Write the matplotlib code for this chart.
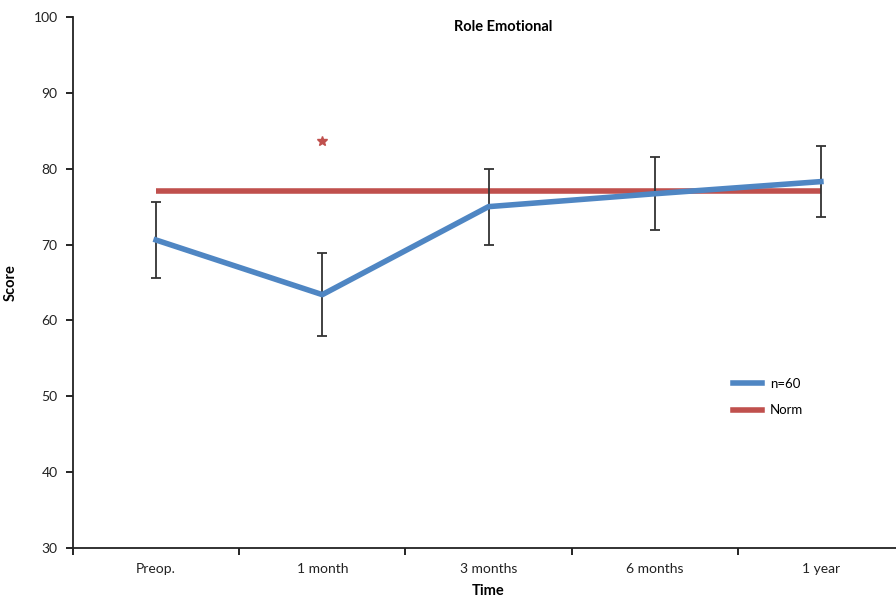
import matplotlib
matplotlib.use("Agg")
import matplotlib.pyplot as plt
import numpy as np
from matplotlib.lines import Line2D

categories = ["Preop.", "1 month", "3 months", "6 months", "1 year"]
n60_mean = [70.6, 63.4, 75.0, 76.7, 78.3]
n60_err = [5.0, 5.5, 5.0, 4.8, 4.7]
norm_values = [77.0, 77.0, 77.0, 77.0, 77.0]
star_category = 1
star_value = 83.6

plt.rcParams['font.family'] = ['Lato', 'DejaVu Sans']

fig = plt.figure(figsize=(8.96, 5.97), dpi=100)
ax = fig.add_axes([73/896, 1-548/597, (904-73)/896, (548-17)/597])

x = np.arange(len(categories))
blue = "#4f86c3"
red = "#c0504d"

ax.plot(x, norm_values, color=red, lw=4, solid_capstyle='butt', label="Norm", zorder=2)
ax.errorbar(x, n60_mean, yerr=n60_err, color=blue, lw=4, ecolor="#333333",
            elinewidth=1.3, capsize=3.5, capthick=1.3, label="n=60", zorder=3)
ax.plot([x[star_category]], [star_value], marker='*', color=red, markersize=7, ls='none')

ax.set_xlim(-0.5, 4.5)
ax.set_ylim(30, 100)
ax.set_yticks(np.arange(30, 101, 10))
ax.set_xticks(x)
ax.set_xticklabels(categories, fontsize=10, color="#222222")
ax.set_xticks(np.arange(-0.5, 4.6, 1), minor=True)
ax.tick_params(axis='x', which='major', length=0, pad=11)
ax.tick_params(axis='x', which='minor', length=5, width=1.2, direction='out')
ax.tick_params(axis='y', length=5, width=1.2, direction='out', labelsize=10, labelcolor="#222222", pad=6)

for s in ['top', 'right']:
    ax.spines[s].set_visible(False)
for s in ['left', 'bottom']:
    ax.spines[s].set_linewidth(1.3)
    ax.spines[s].set_color("#222222")

ax.text((503-73)/831, 1-(27-17)/531, "Role Emotional", transform=ax.transAxes,
        fontsize=10.5, fontweight='bold', ha='center', va='center')
ax.set_xlabel("Time", fontsize=10.5, fontweight='bold', labelpad=6)
ax.set_ylabel("Score", fontsize=10.5, fontweight='bold')
ax.yaxis.set_label_coords((18-73)/831, 0.5)

handles = [Line2D([], [], color=blue, lw=4), Line2D([], [], color=red, lw=4)]
ax.legend(handles, ["n=60", "Norm"], loc='upper left', bbox_to_anchor=(648/831, 1-(366-17)/531),
          frameon=False, fontsize=9.5, handlelength=2.2, handletextpad=0.6, labelspacing=1.1)

fig.savefig("out.png", dpi=100)
